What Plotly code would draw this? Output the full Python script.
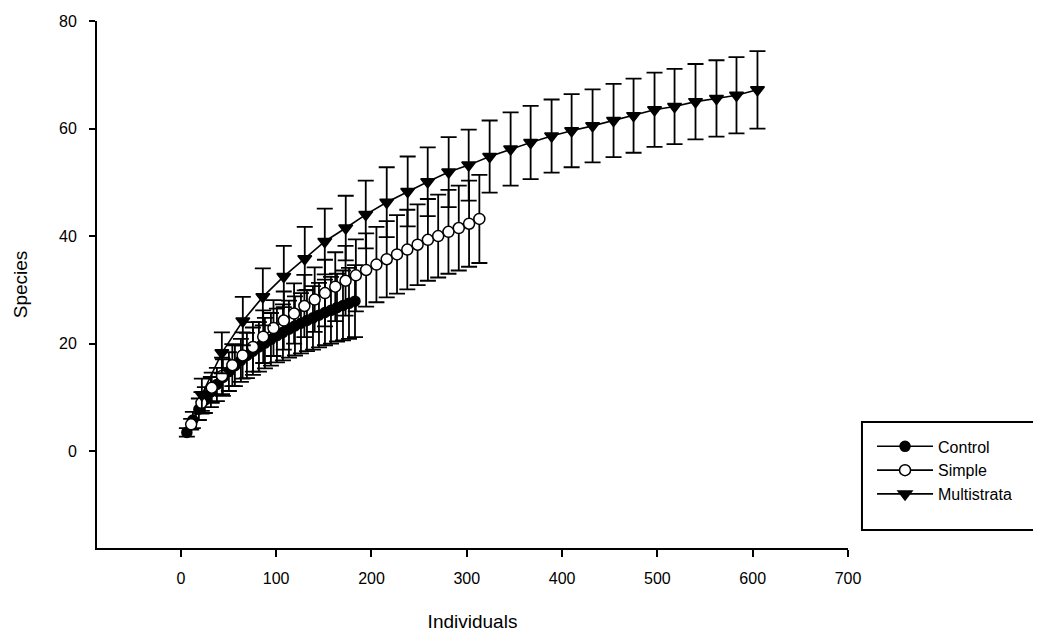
import plotly.graph_objects as go

# ---- data ----
control_x = [6.3, 12.6, 18.9, 25.2, 31.5, 37.8, 44.1, 50.4, 56.7, 63.0, 69.3, 75.6, 81.9, 88.2, 94.5,
             100.8, 107.1, 113.4, 119.7, 126.0, 132.3, 138.6, 144.9, 151.2, 157.5, 163.8, 170.1, 176.4, 182.7]
control_y = [3.5, 5.8, 7.8, 9.5, 11.0, 12.4, 13.7, 14.8, 15.9, 16.9, 17.8, 18.6, 19.4, 20.1, 20.8,
             21.5, 22.1, 22.7, 23.3, 23.8, 24.3, 24.8, 25.3, 25.8, 26.2, 26.7, 27.1, 27.5, 27.9]
control_err = [0.8, 1.5, 2.0, 2.4, 2.8, 3.1, 3.4, 3.6, 3.8, 4.0, 4.2, 4.4, 4.6, 4.7, 4.9,
               5.0, 5.2, 5.3, 5.5, 5.6, 5.7, 5.9, 6.0, 6.1, 6.2, 6.3, 6.5, 6.6, 6.7]

simple_x = [10.8, 21.6, 32.4, 43.2, 54.0, 64.8, 75.6, 86.4, 97.2, 108.0, 118.8, 129.6, 140.4, 151.2, 162.0,
            172.8, 183.6, 194.4, 205.2, 216.0, 226.8, 237.6, 248.4, 259.2, 270.0, 280.8, 291.6, 302.4, 313.2]
simple_y = [5.0, 9.0, 11.8, 14.0, 16.0, 17.8, 19.4, 21.3, 22.9, 24.3, 25.6, 27.0, 28.2, 29.4, 30.6,
            31.7, 32.7, 33.7, 34.7, 35.7, 36.6, 37.5, 38.4, 39.3, 40.0, 40.8, 41.5, 42.3, 43.2]
simple_err = [1.0, 2.0, 2.8, 3.4, 3.9, 4.3, 4.6, 4.9, 5.2, 5.4, 5.6, 5.8, 6.0, 6.2, 6.4,
              6.5, 6.7, 6.8, 7.0, 7.1, 7.3, 7.4, 7.5, 7.6, 7.7, 7.8, 7.9, 8.0, 8.2]

multi_x = [22, 43, 65, 86, 108, 130, 151, 173, 194, 216, 238, 259, 281, 302,
           324, 346, 367, 389, 410, 432, 454, 475, 497, 518, 540, 562, 583, 605]
multi_y = [10.5, 18.3, 24.2, 28.7, 32.5, 35.8, 39.0, 41.5, 44.0, 46.3, 48.3, 50.1, 51.9, 53.2,
           54.8, 56.2, 57.4, 58.6, 59.6, 60.5, 61.5, 62.4, 63.5, 64.1, 65.0, 65.6, 66.2, 67.2]
multi_err = [3.0, 3.8, 4.5, 5.3, 5.7, 5.9, 6.1, 6.0, 6.3, 6.5, 6.5, 6.4, 6.5, 6.6,
             6.7, 6.8, 6.8, 6.8, 6.8, 6.8, 6.8, 6.9, 6.9, 7.0, 7.0, 7.1, 7.1, 7.2]

x_ticks = [0, 100, 200, 300, 400, 500, 600, 700]
y_ticks = [0, 20, 40, 60, 80]

FONT = "Arial, Liberation Sans, sans-serif"

fig = go.Figure()

def add(name, xs, ys, errs, symbol, fill, size):
    fig.add_trace(go.Scatter(
        x=xs, y=ys, name=name, mode="lines+markers", legendgroup=name,
        line=dict(color="black", width=1.6),
        marker=dict(symbol=symbol, size=size, color=fill,
                    line=dict(color="black", width=1.5)),
        error_y=dict(type="data", array=errs, visible=True,
                     color="black", thickness=1.8, width=8),
    ))

add("Control", control_x, control_y, control_err, "circle", "black", 10)
add("Simple", simple_x, simple_y, simple_err, "circle", "white", 11)
add("Multistrata", multi_x, multi_y, multi_err, "triangle-down", "black", 12)

fig.update_layout(
    width=1033, height=626,
    margin=dict(l=89, r=193, t=13, b=86, autoexpand=False),
    paper_bgcolor="white", plot_bgcolor="white",
    font=dict(family=FONT, size=16, color="black"),
    showlegend=True,
    legend=dict(
        x=1.032, xanchor="left", y=0.225, yanchor="top",
        borderwidth=0, bgcolor="rgba(0,0,0,0)",
        font=dict(family=FONT, size=16, color="black"),
        tracegroupgap=0, itemwidth=56,
    ),
    shapes=[dict(type="rect", xref="paper", yref="paper",
                 x0=1.0186, x1=1.2575, y0=0.034, y1=0.239,
                 line=dict(color="black", width=2), fillcolor="rgba(0,0,0,0)")],
    xaxis=dict(
        range=[-88, 700], tickvals=x_ticks, ticktext=[str(v) for v in x_ticks],
        showline=True, linecolor="black", linewidth=2, automargin=False,
        ticks="outside", ticklen=7, tickwidth=1.5, tickcolor="black",
        tickfont=dict(family=FONT, size=16),
        showgrid=False, zeroline=False, ticklabelstandoff=8,
        title=dict(text="Individuals", font=dict(family=FONT, size=19), standoff=28),
    ),
    yaxis=dict(
        range=[-18, 80], tickvals=y_ticks, ticktext=[str(v) for v in y_ticks],
        showline=True, linecolor="black", linewidth=2, automargin=False,
        ticks="outside", ticklen=6, tickwidth=1.5, tickcolor="black",
        tickfont=dict(family=FONT, size=16),
        showgrid=False, zeroline=False, ticklabelstandoff=9,
        title=dict(text="Species", font=dict(family=FONT, size=19), standoff=26),
    ),
)

fig.write_html("out.html")
